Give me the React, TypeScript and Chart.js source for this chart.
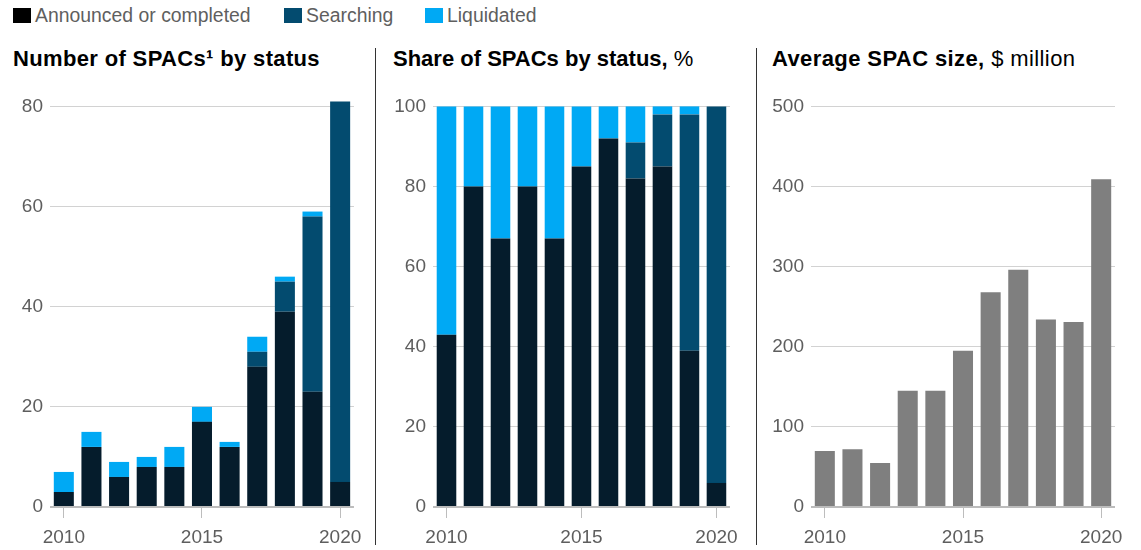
import React, { useEffect, useRef } from 'react';
import { Chart, registerables } from 'chart.js';

Chart.register(...registerables);

const years = ['2010', '2011', '2012', '2013', '2014', '2015', '2016', '2017', '2018', '2019', '2020'];

// Number of SPACs by status
const countAnnounced = [3, 12, 6, 8, 8, 17, 12, 28, 39, 23, 5];
const countSearching = [0, 0, 0, 0, 0, 0, 0, 3, 6, 35, 76];
const countLiquidated = [4, 3, 3, 2, 4, 3, 1, 3, 1, 1, 0];

// Share of SPACs by status, %
const shareAnnounced = [43, 80, 67, 80, 67, 85, 92, 82, 85, 39, 6];
const shareSearching = [0, 0, 0, 0, 0, 0, 0, 9, 13, 59, 94];
const shareLiquidated = [57, 20, 33, 20, 33, 15, 8, 9, 2, 2, 0];

// Average SPAC size, $ million
const avgSize = [70, 72, 55, 145, 145, 195, 268, 296, 234, 231, 409];

const FONT = '"Liberation Sans", Arial, Helvetica, sans-serif';
const TICK_COLOR = '#5e5e5e';
const C_ANN = '#051c2c';
const C_SEARCH = '#034b6f';
const C_LIQ = '#00a9f4';
const C_AVG = '#7f7f7f';

function makeOptions(yMax: number, yStep: number, yWidth: number, padRight: number): any {
  return {
    responsive: false,
    animation: false,
    layout: { padding: { top: 14, right: padRight, left: 0, bottom: 0 } },
    plugins: { legend: { display: false }, tooltip: { enabled: false } },
    scales: {
      x: {
        stacked: true,
        grid: {
          offset: false,
          drawOnChartArea: false,
          drawTicks: true,
          tickLength: 11,
          tickWidth: 1,
          tickColor: (c: any) => (c.index % 5 === 0 ? '#bdbdbd' : 'rgba(0,0,0,0)'),
        },
        border: { display: false },
        ticks: {
          autoSkip: false,
          maxRotation: 0,
          minRotation: 0,
          padding: 8,
          color: TICK_COLOR,
          font: { family: FONT, size: 19 },
          callback: (_v: any, i: number) => (i % 5 === 0 ? years[i] : ''),
        },
        afterFit: (s: any) => {
          s.height = 43;
        },
      },
      y: {
        stacked: true,
        min: 0,
        max: yMax,
        grid: {
          drawTicks: false,
          color: (c: any) => (c.tick && c.tick.value === 0 ? '#bcbcbc' : '#d2d2d2'),
          lineWidth: (c: any) => (c.tick && c.tick.value === 0 ? 2 : 1),
        },
        border: { display: false },
        ticks: {
          stepSize: yStep,
          padding: 7,
          color: TICK_COLOR,
          font: { family: FONT, size: 19 },
        },
        afterFit: (s: any) => {
          s.width = yWidth;
        },
      },
    },
  };
}

function ds(label: string, data: number[], color: string) {
  return {
    label,
    data,
    backgroundColor: color,
    borderWidth: 0,
    barPercentage: 0.725,
    categoryPercentage: 1,
    clip: false as any,
  };
}

function BarChart(props: { datasets: any[]; options: any; left: number; top: number; width: number; height: number }) {
  const ref = useRef<HTMLCanvasElement | null>(null);
  useEffect(() => {
    if (!ref.current) return;
    const chart = new Chart(ref.current, {
      type: 'bar',
      data: { labels: years, datasets: props.datasets },
      options: props.options,
    });
    return () => chart.destroy();
  }, []);
  return (
    <canvas
      ref={ref}
      width={props.width}
      height={props.height}
      style={{ position: 'absolute', left: props.left, top: props.top, width: props.width, height: props.height }}
    />
  );
}

const legendText: React.CSSProperties = {
  position: 'absolute',
  top: 6,
  fontSize: 19.4,
  lineHeight: '19px',
  color: '#5f5f5f',
  whiteSpace: 'nowrap',
};

const titleStyle: React.CSSProperties = {
  position: 'absolute',
  top: 48,
  fontSize: 22,
  lineHeight: '22px',
  fontWeight: 'bold',
  color: '#000',
  whiteSpace: 'nowrap',
};

export default function App() {
  const top = 88;
  const h = 462;
  return (
    <div
      style={{
        position: 'fixed',
        left: 0,
        top: 0,
        width: 1141,
        height: 550,
        background: '#fff',
        fontFamily: FONT,
        overflow: 'hidden',
      }}
    >
      {/* Legend */}
      <div style={{ position: 'absolute', left: 13, top: 8, width: 18, height: 15, background: '#000' }} />
      <div style={{ ...legendText, left: 35 }}>Announced or completed</div>
      <div style={{ position: 'absolute', left: 284, top: 8, width: 18, height: 15, background: C_SEARCH }} />
      <div style={{ ...legendText, left: 306 }}>Searching</div>
      <div style={{ position: 'absolute', left: 425, top: 8, width: 18, height: 15, background: C_LIQ }} />
      <div style={{ ...legendText, left: 447 }}>Liquidated</div>

      {/* Titles */}
      <div style={{ ...titleStyle, left: 13, letterSpacing: '0.35px' }}>Number of SPACs¹ by status</div>
      <div style={{ ...titleStyle, left: 393 }}>
        Share of SPACs by status,<span style={{ fontWeight: 'normal' }}> %</span>
      </div>
      <div style={{ ...titleStyle, left: 772, letterSpacing: '0.4px' }}>
        Average SPAC size,<span style={{ fontWeight: 'normal' }}> $ million</span>
      </div>

      {/* Dividers */}
      <div style={{ position: 'absolute', left: 375, top: 48, width: 1, height: 497, background: '#333' }} />
      <div style={{ position: 'absolute', left: 756, top: 48, width: 1, height: 497, background: '#333' }} />

      <BarChart
        left={0}
        top={top}
        width={370}
        height={h}
        datasets={[
          ds('Announced or completed', countAnnounced, C_ANN),
          ds('Searching', countSearching, C_SEARCH),
          ds('Liquidated', countLiquidated, C_LIQ),
        ]}
        options={makeOptions(80, 20, 50, 16)}
      />
      <BarChart
        left={378}
        top={top}
        width={368}
        height={h}
        datasets={[
          ds('Announced or completed', shareAnnounced, C_ANN),
          ds('Searching', shareSearching, C_SEARCH),
          ds('Liquidated', shareLiquidated, C_LIQ),
        ]}
        options={makeOptions(100, 20, 55, 9)}
      />
      <BarChart
        left={758}
        top={top}
        width={383}
        height={h}
        datasets={[ds('Average SPAC size', avgSize, C_AVG)]}
        options={makeOptions(500, 100, 53, 26)}
      />
    </div>
  );
}
